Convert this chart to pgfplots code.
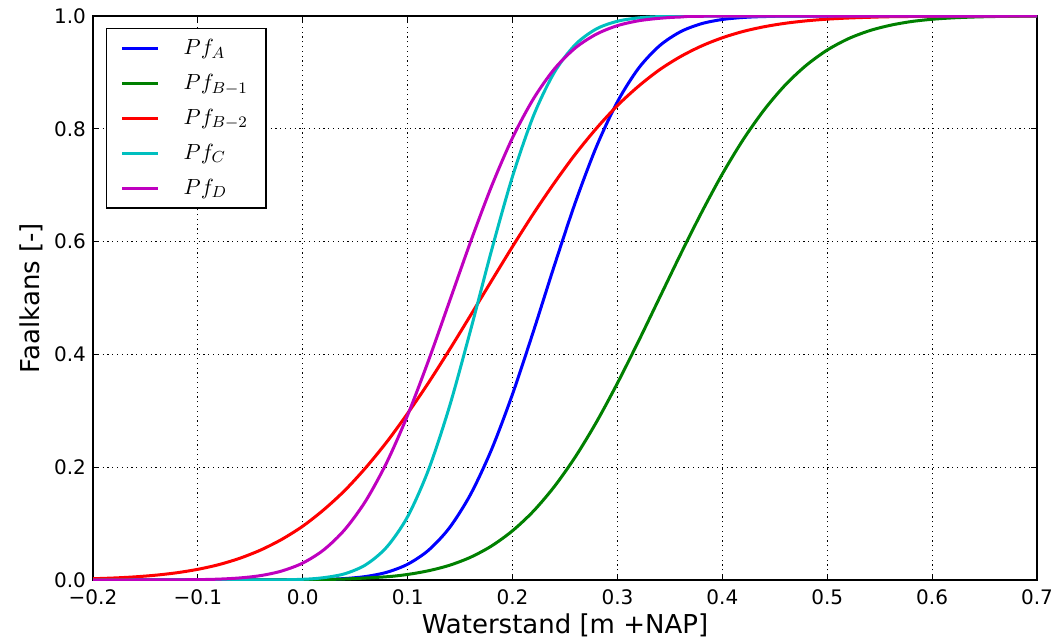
\documentclass[border=0pt]{standalone}
\usepackage[no-math]{fontspec}
\setmainfont{DejaVu Sans}
\usepackage{pgfplots}
\pgfplotsset{compat=1.18}
\definecolor{mplb}{rgb}{0,0,1}
\definecolor{mplg}{rgb}{0,0.5,0}
\definecolor{mplr}{rgb}{1,0,0}
\definecolor{mplc}{rgb}{0,0.75,0.75}
\definecolor{mplm}{rgb}{0.75,0,0.75}
\begin{document}
\begin{tikzpicture}
\begin{axis}[
  scale only axis, width=472pt, height=282pt,
  xmin=-0.2, xmax=0.7, ymin=0, ymax=1,
  xtick={-0.2,-0.1,0,0.1,0.2,0.3,0.4,0.5,0.6,0.7},
  xticklabels={−0.2,−0.1,0.0,0.1,0.2,0.3,0.4,0.5,0.6,0.7},
  ytick={0,0.2,0.4,0.6,0.8,1},
  yticklabels={0.0,0.2,0.4,0.6,0.8,1.0},
  tick label style={font=\fontsize{10}{12}\selectfont, black},
  xticklabel style={yshift=-1.5pt},
  yticklabel style={xshift=0pt},
  xlabel={Waterstand [m +NAP]},
  ylabel={Faalkans [-]},
  label style={font=\fontsize{13}{15}\selectfont},
  xlabel style={at={(axis description cs:0.5,0)}, anchor=center, yshift=-22.5pt},
  ylabel style={at={(axis description cs:0,0.5)}, anchor=center, yshift=31pt},
  grid=major,
  major grid style={black, line width=0.4pt, dash pattern=on 0.6pt off 1.8pt},
  axis line style={line width=0.8pt},
  tick align=inside, major tick length=3pt,
  tick style={black, line width=0.5pt},
  every axis plot/.append style={line width=1.5pt, no marks, smooth},
  legend image code/.code={\draw[#1] (0pt,0pt) -- (18pt,0pt);},
  legend cell align=left,
  legend style={at={(axis description cs:0,1)}, anchor=north west,
    xshift=6.5pt, yshift=-6pt, draw=black, line width=0.7pt, fill=white,
    font=\fontsize{11}{13}\selectfont, inner xsep=7pt, inner ysep=3.5pt,
    row sep=4.3pt,
    /tikz/every even column/.append style={column sep=0pt},
    /tikz/every odd column/.append style={column sep=10pt}},
]
\coordinate (sw) at (rel axis cs:0,0);
\coordinate (ne) at (rel axis cs:1,1);
% Pf_A
\addplot[mplb] coordinates {
(-0.2,0) (0.0,0.0004) (0.02,0.0010) (0.04,0.0026) (0.06,0.0062) (0.08,0.0137)
(0.10,0.0280) (0.12,0.0530) (0.14,0.0930) (0.16,0.1520) (0.18,0.2315)
(0.20,0.3298) (0.22,0.4416) (0.24,0.5584) (0.26,0.6702) (0.28,0.7685)
(0.30,0.8480) (0.32,0.9070) (0.34,0.9470) (0.36,0.9720) (0.38,0.9863)
(0.40,0.9938) (0.42,0.9974) (0.44,0.9990) (0.48,0.9999) (0.7,1)
};
\addlegendentry{$Pf_A$}
% Pf_B-1
\addplot[mplg] coordinates {
(-0.2,0) (-0.04,0.0001) (0.0,0.0005) (0.04,0.0018) (0.08,0.0058) (0.10,0.0099)
(0.12,0.0165) (0.14,0.0262) (0.16,0.0404) (0.18,0.0604) (0.20,0.0874)
(0.22,0.1223) (0.24,0.1661) (0.26,0.2188) (0.28,0.2801) (0.30,0.3491)
(0.32,0.4231) (0.34,0.5000) (0.36,0.5769) (0.38,0.6509) (0.40,0.7199)
(0.42,0.7812) (0.44,0.8339) (0.46,0.8777) (0.48,0.9126) (0.50,0.9396)
(0.52,0.9596) (0.54,0.9738) (0.56,0.9835) (0.58,0.9901) (0.60,0.9942)
(0.62,0.9967) (0.64,0.9982) (0.66,0.9991) (0.68,0.9995) (0.70,0.9998)
};
\addlegendentry{$Pf_{B-1}$}
% Pf_B-2
\addplot[mplr] coordinates {
(-0.2,0.0023) (-0.18,0.0036) (-0.16,0.0056) (-0.14,0.0086) (-0.12,0.0129)
(-0.10,0.0190) (-0.08,0.0273) (-0.06,0.0386) (-0.04,0.0533) (-0.02,0.0721)
(0.0,0.0955) (0.02,0.1246) (0.04,0.1587) (0.06,0.1991) (0.08,0.2446)
(0.10,0.2955) (0.12,0.3502) (0.14,0.4087) (0.16,0.4694) (0.18,0.5306)
(0.20,0.5913) (0.22,0.6498) (0.24,0.7045) (0.26,0.7554) (0.28,0.8009)
(0.30,0.8413) (0.32,0.8754) (0.34,0.9045) (0.36,0.9279) (0.38,0.9467)
(0.40,0.9614) (0.42,0.9727) (0.44,0.9810) (0.46,0.9871) (0.48,0.9914)
(0.50,0.9944) (0.52,0.9964) (0.54,0.9977) (0.56,0.9987) (0.60,0.9995)
(0.64,0.9998) (0.70,1)
};
\addlegendentry{$Pf_{B-2}$}
% Pf_C
\addplot[mplc] coordinates {
(-0.2,0) (-0.04,0.0001) (0.0,0.0013) (0.02,0.0042) (0.04,0.0111) (0.06,0.0270)
(0.08,0.0583) (0.10,0.1125) (0.12,0.1961) (0.14,0.3085) (0.16,0.4432)
(0.18,0.5847) (0.20,0.7158) (0.22,0.8233) (0.24,0.9006) (0.26,0.9496)
(0.28,0.9772) (0.30,0.9907) (0.32,0.9966) (0.34,0.9989) (0.38,0.9999) (0.7,1)
};
\addlegendentry{$Pf_C$}
% Pf_D
\addplot[mplm] coordinates {
(-0.2,0) (-0.14,0.0001) (-0.10,0.0007) (-0.08,0.0016) (-0.06,0.0037)
(-0.04,0.0079) (-0.02,0.0160) (0.0,0.0301) (0.02,0.0535) (0.04,0.0893)
(0.06,0.1403) (0.08,0.2083) (0.10,0.2924) (0.12,0.3898) (0.14,0.4947)
(0.16,0.5998) (0.18,0.6983) (0.20,0.7842) (0.22,0.8535) (0.24,0.9064)
(0.26,0.9436) (0.28,0.9679) (0.30,0.9829) (0.32,0.9915) (0.34,0.9959)
(0.36,0.9982) (0.40,0.9997) (0.7,1)
};
\addlegendentry{$Pf_D$}
\end{axis}
\pgfresetboundingbox
\path (sw) ++(-46.5pt,-31pt) rectangle ([shift={(12.5pt,8pt)}]ne);
\end{tikzpicture}
\end{document}
